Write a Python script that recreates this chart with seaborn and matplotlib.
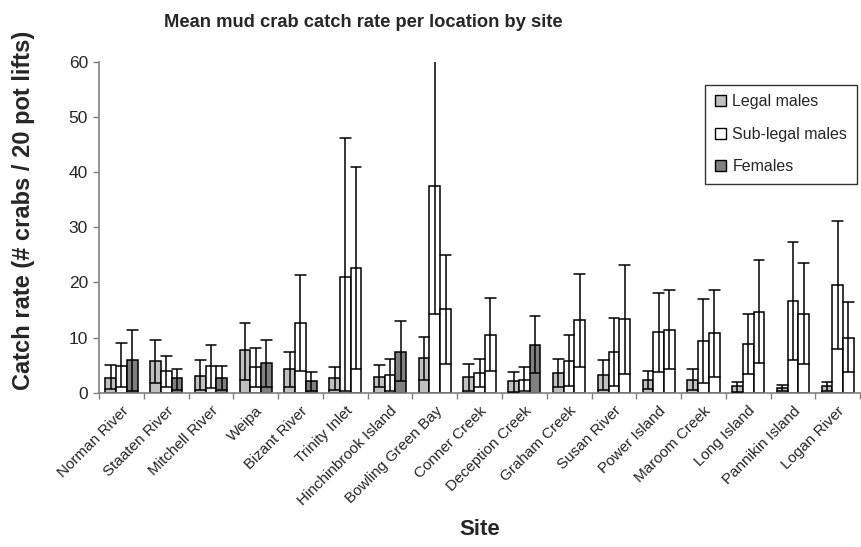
import numpy as np
import pandas as pd
import matplotlib
matplotlib.use("Agg")
import matplotlib.pyplot as plt
from matplotlib.patches import Patch
import seaborn as sns

sites = ["Norman River", "Staaten River", "Mitchell River", "Weipa", "Bizant River",
         "Trinity Inlet", "Hinchinbrook Island", "Bowling Green Bay", "Conner Creek",
         "Deception Creek", "Graham Creek", "Susan River", "Power Island", "Maroom Creek",
         "Long Island", "Pannikin Island", "Logan River"]
series = ["Legal males", "Sub-legal males", "Females"]

legal = [2.65, 5.7, 3.1, 7.7, 4.3, 2.65, 2.9, 6.3, 2.9, 2.1, 3.6, 3.2, 2.4, 2.4, 1.15, 0.9, 1.15]
legal_hi = [5.1, 9.6, 6.0, 12.7, 7.4, 4.6, 5.0, 10.1, 5.3, 3.8, 6.1, 6.0, 4.0, 4.3, 2.0, 1.4, 2.0]
legal_lo = [0.7, 1.75, 0.5, 2.3, 1.0, 0.55, 1.0, 2.3, 0.4, 0.2, 1.0, 0.5, 0.7, 0.55, 0.2, 0.25, 0.3]

sublegal = [4.8, 4.0, 4.8, 4.6, 12.7, 21.0, 3.2, 37.4, 3.6, 2.4, 5.8, 7.4, 11.1, 9.4, 8.8, 16.7, 19.6]
sublegal_hi = [9.0, 6.7, 8.7, 8.2, 21.4, 46.1, 6.1, 60.3, 6.1, 4.7, 10.5, 13.6, 18.1, 17.0, 14.2, 27.4, 31.1]
sublegal_lo = [1.0, 1.1, 0.9, 1.1, 4.0, 0.3, 0.4, 14.2, 1.0, 0.3, 1.2, 1.15, 3.7, 1.75, 3.45, 6.0, 7.9]

females = [6.0, 2.65, 2.65, 5.4, 2.05, 22.7, 7.45, 15.1, 10.5, 8.6, 13.1, 13.3, 11.4, 10.8, 14.7, 14.2, 10.0]
females_hi = [11.3, 4.3, 4.8, 9.6, 3.7, 41.0, 13.0, 25.0, 17.1, 13.9, 21.6, 23.2, 18.6, 18.6, 24.1, 23.5, 16.5]
females_lo = [0.3, 0.5, 0.5, 1.1, 0.25, 4.3, 2.1, 5.2, 4.0, 3.6, 4.6, 3.45, 4.3, 2.85, 5.4, 5.15, 3.7]

# sites whose female bars are drawn unfilled in the original
female_unfilled = ["Trinity Inlet", "Bowling Green Bay", "Conner Creek", "Graham Creek",
                   "Susan River", "Power Island", "Maroom Creek", "Long Island",
                   "Pannikin Island", "Logan River"]

df = pd.DataFrame({
    "Site": sites * 3,
    "Series": [s for s in series for _ in sites],
    "Rate": legal + sublegal + females,
    "hi": legal_hi + sublegal_hi + females_hi,
    "lo": legal_lo + sublegal_lo + females_lo,
})

colors = {"Legal males": "#C0C0C0", "Sub-legal males": "#FFFFFF", "Females": "#808080"}

sns.set_theme(style="white")
plt.rcParams["font.family"] = ["Liberation Sans", "DejaVu Sans"]

fig = plt.figure(figsize=(8.61, 5.47), dpi=100)
ax = fig.add_axes([0.115, 0.282, 0.884, 0.605])

sns.barplot(data=df, x="Site", y="Rate", hue="Series", order=sites, hue_order=series,
            palette=colors, edgecolor="black", linewidth=1.1, errorbar=None,
            width=0.72, gap=0, saturation=1, ax=ax, legend=False)

for cont, s in zip(ax.containers, series):
    sub = df[df["Series"] == s].set_index("Site").loc[sites]
    for bar, site in zip(cont, sites):
        if s == "Females" and site in female_unfilled:
            bar.set_facecolor("white")
        xc = bar.get_x() + bar.get_width() / 2
        w = bar.get_width()
        lo = sub.loc[site, "lo"]
        hi = sub.loc[site, "hi"]
        ax.plot([xc, xc], [lo, hi], color="black", lw=1.1, zorder=5, solid_capstyle="butt")
        ax.plot([xc - w / 2, xc + w / 2], [hi, hi], color="black", lw=1.1, zorder=5)
        ax.plot([xc - w / 2, xc + w / 2], [lo, lo], color="black", lw=1.1, zorder=5)

ax.set_xlim(-0.5, len(sites) - 0.5)
ax.set_ylim(0, 60)
ax.set_yticks([0, 10, 20, 30, 40, 50, 60])
ax.set_xticks(np.arange(len(sites)))
ax.set_xticklabels(sites, rotation=45, ha="right", rotation_mode="anchor", fontsize=11)
ax.set_xticks(np.arange(-0.5, len(sites), 1), minor=True)
ax.tick_params(axis="x", which="major", length=0, pad=8)
ax.tick_params(axis="x", which="minor", length=4, color="#808080", width=1, direction="out", bottom=True)
ax.tick_params(axis="y", length=4, color="#808080", width=1, direction="out", left=True,
               labelsize=12.5, pad=4)

for side in ["top", "right"]:
    ax.spines[side].set_visible(False)
for side in ["left", "bottom"]:
    ax.spines[side].set_color("#808080")
    ax.spines[side].set_linewidth(1.2)

ax.set_xlabel("Site", fontsize=16, fontweight="bold")
ax.xaxis.set_label_coords(0.5, -0.38)
ax.set_ylabel("Catch rate (# crabs / 20 pot lifts)", fontsize=17, fontweight="bold")
ax.yaxis.set_label_coords(-0.084, 0.552)
fig.suptitle("Mean mud crab catch rate per location by site", fontsize=13.2, fontweight="bold",
             x=0.422, y=0.975)

handles = [Patch(facecolor=colors[s], edgecolor="black", linewidth=1, label=s) for s in series]
leg = ax.legend(handles=handles, loc="upper right", bbox_to_anchor=(1.006, 0.955), fontsize=11.5,
                frameon=True, fancybox=False, edgecolor="black", handlelength=0.7,
                handleheight=0.7, handletextpad=0.4, labelspacing=1.1, borderpad=0.6)
leg.get_frame().set_linewidth(1)

fig.savefig("out.png", dpi=100)
